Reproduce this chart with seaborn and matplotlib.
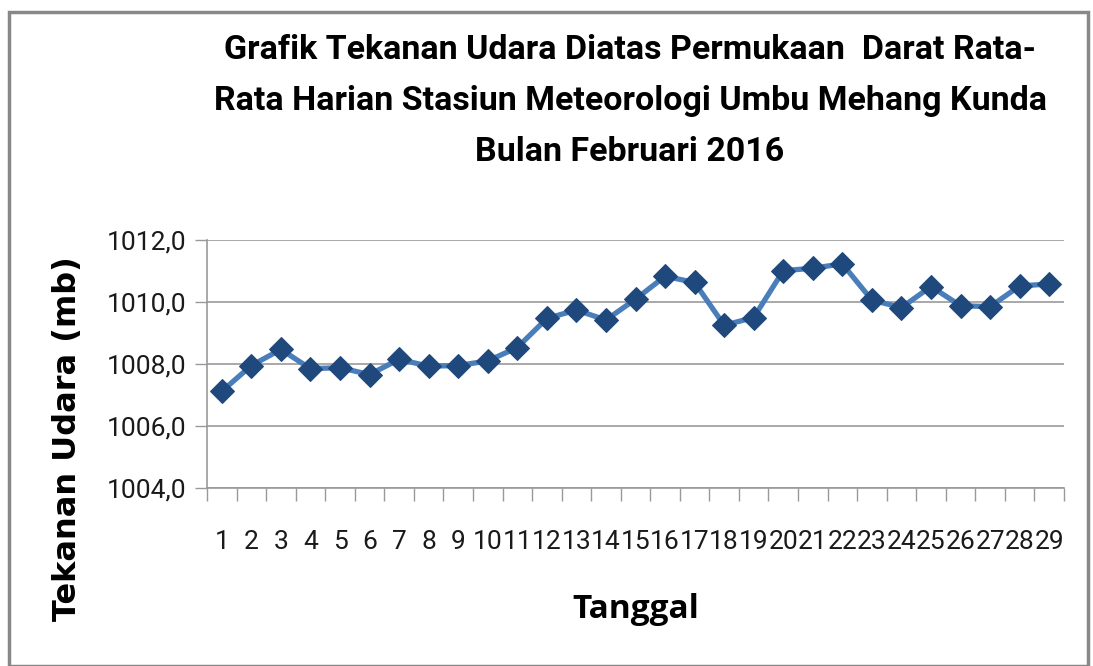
import matplotlib
matplotlib.use("Agg")
import matplotlib.pyplot as plt
import seaborn as sns
import pandas as pd
from matplotlib.patches import Rectangle
from matplotlib import font_manager

days = [str(i) for i in range(1, 30)]
pressure = [1007.12, 1007.95, 1008.47, 1007.85, 1007.88, 1007.66, 1008.15, 1007.93,
            1007.95, 1008.10, 1008.53, 1009.47, 1009.74, 1009.42, 1010.09, 1010.83,
            1010.63, 1009.25, 1009.50, 1011.01, 1011.09, 1011.23, 1010.06, 1009.82,
            1010.50, 1009.88, 1009.85, 1010.52, 1010.58]
yticks = [1004.0, 1006.0, 1008.0, 1010.0, 1012.0]
title = ("Grafik Tekanan Udara Diatas Permukaan  Darat Rata-\n"
         "Rata Harian Stasiun Meteorologi Umbu Mehang Kunda\n"
         "Bulan Februari 2016")

sns.set_theme(style="white")
names = {f.name for f in font_manager.fontManager.ttflist}
narrow = "Liberation Sans Narrow" if "Liberation Sans Narrow" in names else "Roboto"
plt.rcParams['font.family'] = [narrow, 'DejaVu Sans']

df = pd.DataFrame({"x": range(len(days)), "y": pressure})

fig = plt.figure(figsize=(10.93, 6.66), dpi=100)
ax = fig.add_axes([207/1093, 1 - 488/666, (1064-207)/1093, (488-240)/666])

sns.lineplot(data=df, x="x", y="y", ax=ax, color="#4a7ebb", linewidth=3.8,
             marker="D", markersize=12, markerfacecolor="#1f497d",
             markeredgecolor="#1f497d", zorder=3)

ax.set_xlim(-0.5, len(days) - 0.5)
ax.set_ylim(yticks[0], yticks[-1])
ax.set_yticks(yticks)
ax.set_yticklabels([f"{v:.1f}".replace(".", ",") for v in yticks],
                   fontsize=19, color="#1a1a1a")
ax.set_xticks(range(len(days)))
ax.set_xticklabels(days, fontsize=19, color="#1a1a1a")
ax.tick_params(axis="x", length=0, pad=30)
ax.tick_params(axis="y", length=9, width=1, color="#999999", left=True, pad=6)
# category boundary ticks
ax.set_xticks([i - 0.5 for i in range(len(days) + 1)], minor=True)
ax.tick_params(axis="x", which="minor", length=9, width=1, color="#999999", bottom=True)
ax.grid(axis="y", color="#999999", linewidth=1.2)
for s in ["top", "right"]:
    ax.spines[s].set_visible(False)
for s in ["left", "bottom"]:
    ax.spines[s].set_color("#999999")
    ax.spines[s].set_linewidth(1.2)

ax.set_xlabel("Tanggal", fontsize=24, fontweight="bold", color="black",
              family=['Open Sans', 'DejaVu Sans'], va="center")
ax.xaxis.set_label_coords((636-207)/(1064-207), (488-610)/(488-240))
ax.set_ylabel("Tekanan Udara (mb)", fontsize=23, fontweight="bold", color="black",
              family=['DejaVu Sans'], va="center")
ax.yaxis.set_label_coords((68-207)/(1064-207), (488-439)/(488-240))

fig.text(630/1093, 1 - 101/666, title, ha="center", va="center", fontsize=24.5,
         fontweight="bold", linespacing=1.75, color="black")

fig.patches.append(Rectangle((9/1093, 0), (1088-9)/1093, 1 - 12/666,
                             transform=fig.transFigure, fill=False,
                             edgecolor="#888888", linewidth=2.5))

fig.savefig("out.png", dpi=100, facecolor="white")
